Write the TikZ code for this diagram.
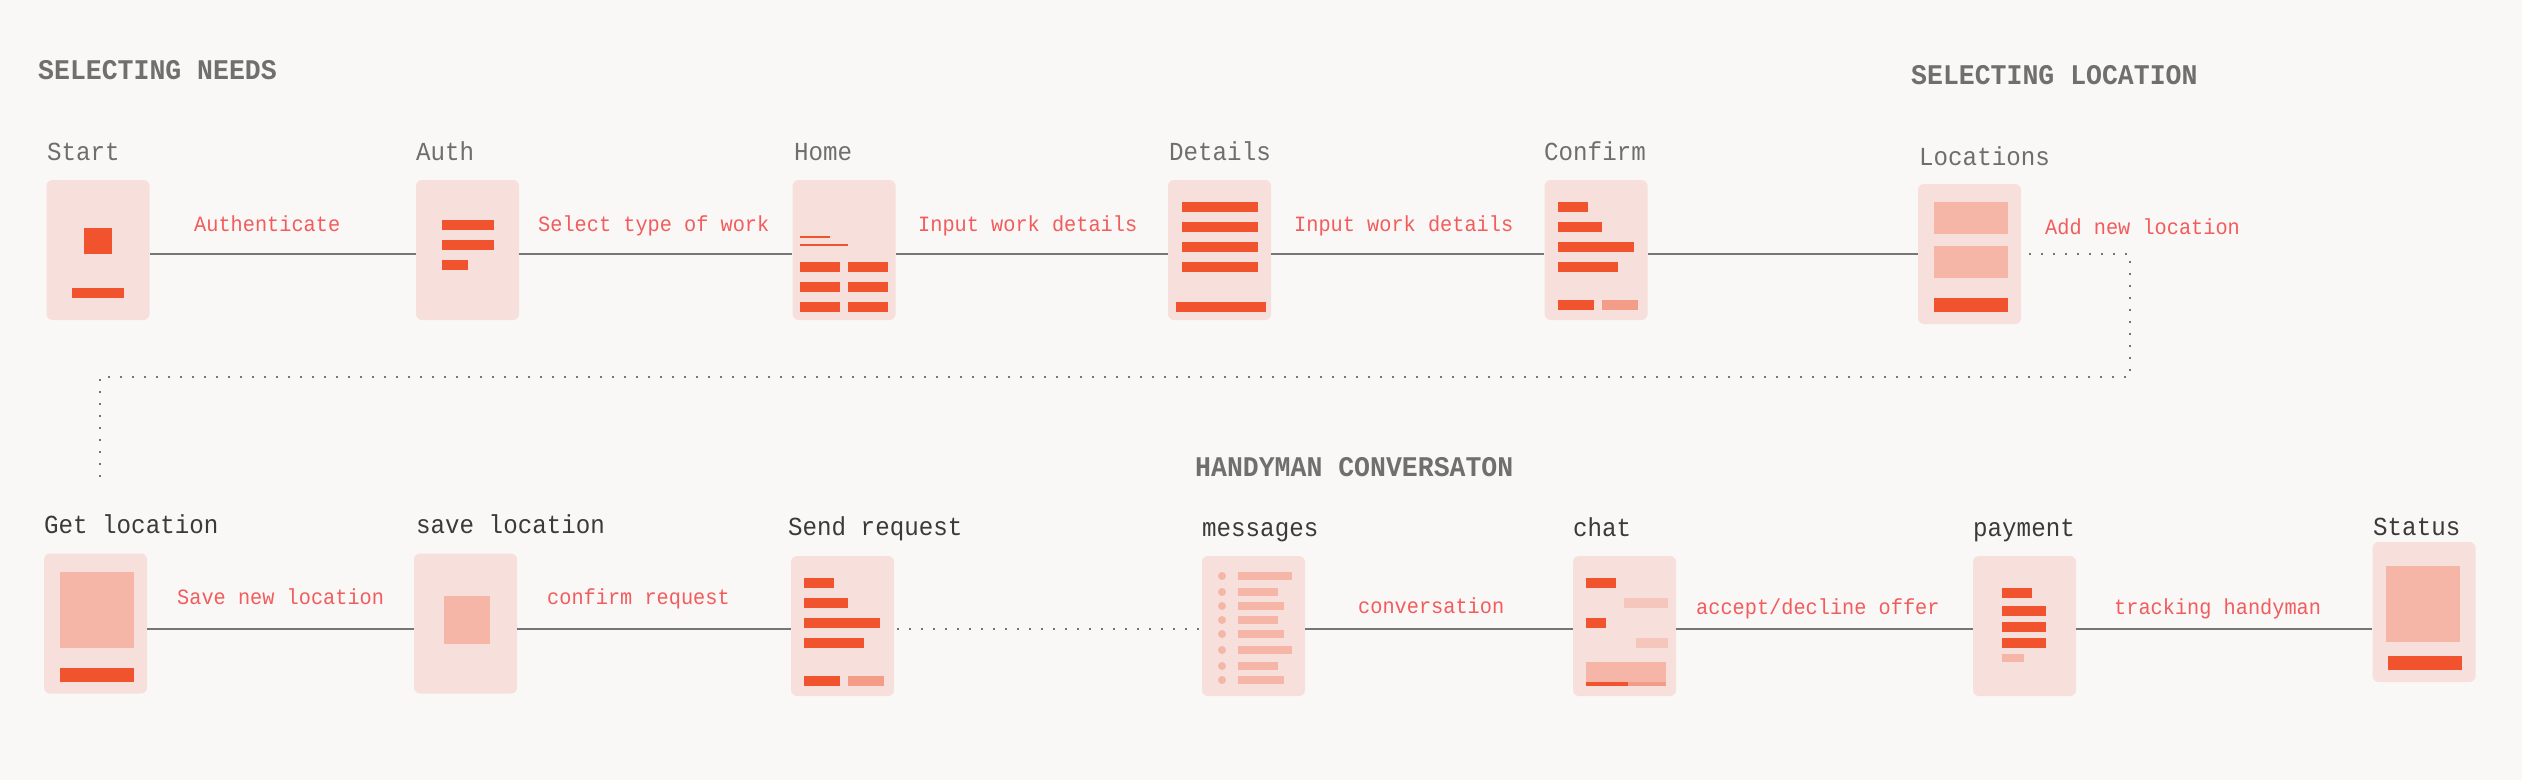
\documentclass[tikz,border=0pt]{standalone}
\usepackage{fontspec}
\newfontfamily\monofnt[FakeStretch=0.93]{Liberation Mono}
\definecolor{bg}{HTML}{F9F8F6}
\definecolor{boxfill}{HTML}{F7E0DC}
\definecolor{og}{HTML}{F2532F}
\definecolor{lt}{HTML}{F5B5A7}
\definecolor{med}{HTML}{F39C88}
\definecolor{pale}{HTML}{F5C6BB}
\definecolor{edgered}{HTML}{F25C5C}
\definecolor{titlegray}{HTML}{6F6F6F}
\definecolor{labelgray}{HTML}{6E6E6E}
\definecolor{labeldark}{HTML}{3A3A3A}
\definecolor{linegray}{HTML}{767676}
\begin{document}
\begin{tikzpicture}[x=1pt,y=-1pt,
  scr/.style={fill=boxfill, rounded corners=6pt, minimum width=103pt, minimum height=140pt, inner sep=0pt},
  ttl/.style={font=\monofnt\bfseries\fontsize{28.5}{32}\selectfont, text=titlegray, anchor=base west, inner sep=0pt},
  toplbl/.style={font=\monofnt\fontsize{26}{30}\selectfont, text=labelgray, anchor=base west, inner sep=0pt},
  botlbl/.style={font=\monofnt\fontsize{26}{30}\selectfont, text=labeldark, anchor=base west, inner sep=0pt},
  edgelbl/.style={font=\monofnt\fontsize{21.8}{25}\selectfont, text=edgered, anchor=base west, inner sep=0pt},
  conn/.style={draw=linegray, line width=2pt},
  dotln/.style={draw=linegray, line width=2pt, dash pattern=on 2pt off 10pt}]
\useasboundingbox (0,0) rectangle (2522,780);
\fill[bg] (0,0) rectangle (2522,780);

% titles
\node[ttl] (t1) at (38,79) {SELECTING NEEDS};
\node[ttl] (t2) at (1911,84) {SELECTING LOCATION};
\node[ttl] (t3) at (1195,476) {HANDYMAN CONVERSATON};

% screens
\node[scr] (start) at (98,250) {};
\node[scr] (auth) at (467.5,250) {};
\node[scr] (home) at (844,250) {};
\node[scr] (details) at (1219.5,250) {};
\node[scr] (confirm) at (1596,250) {};
\node[scr] (loc) at (1969.5,254) {};
\node[scr] (getloc) at (95.5,623.5) {};
\node[scr] (saveloc) at (465.5,623.5) {};
\node[scr] (sendreq) at (842.5,626) {};
\node[scr] (messages) at (1253.5,626) {};
\node[scr] (chat) at (1624.5,626) {};
\node[scr] (payment) at (2024.5,626) {};
\node[scr] (status) at (2424,612) {};

% screen labels
\node[toplbl] (lstart) at (47,160) {Start};
\node[toplbl] (lauth) at (416,160) {Auth};
\node[toplbl] (lhome) at (794,160) {Home};
\node[toplbl] (ldetails) at (1169,160) {Details};
\node[toplbl] (lconfirm) at (1544,160) {Confirm};
\node[toplbl] (lloc) at (1919,165) {Locations};
\node[botlbl] (lgetloc) at (44,533) {Get location};
\node[botlbl] (lsaveloc) at (416,533) {save location};
\node[botlbl] (lsendreq) at (788,535) {Send request};
\node[botlbl] (lmessages) at (1202,536) {messages};
\node[botlbl] (lchat) at (1573,536) {chat};
\node[botlbl] (lpayment) at (1973,536) {payment};
\node[botlbl] (lstatus) at (2373,535) {Status};

% inner: Start
\fill[og] (84,228) rectangle (112,254);
\fill[og] (72,288) rectangle (124,298);
% Auth
\fill[og] (442,220) rectangle (494,230);
\fill[og] (442,240) rectangle (494,250);
\fill[og] (442,260) rectangle (468,270);
% Home
\fill[og] (800,236) rectangle (830,238);
\fill[og] (800,244) rectangle (848,246);
\foreach \yy in {262,282,302}{
  \fill[og] (800,\yy) rectangle (840,\yy+10);
  \fill[og] (848,\yy) rectangle (888,\yy+10);
}
% Details
\foreach \yy in {202,222,242,262}{\fill[og] (1182,\yy) rectangle (1258,\yy+10);}
\fill[og] (1176,302) rectangle (1266,312);
% Confirm
\fill[og] (1558,202) rectangle (1588,212);
\fill[og] (1558,222) rectangle (1602,232);
\fill[og] (1558,242) rectangle (1634,252);
\fill[og] (1558,262) rectangle (1618,272);
\fill[og] (1558,300) rectangle (1594,310);
\fill[med] (1602,300) rectangle (1638,310);
% Locations
\fill[lt] (1934,202) rectangle (2008,234);
\fill[lt] (1934,246) rectangle (2008,278);
\fill[og] (1934,298) rectangle (2008,312);
% Get location
\fill[lt] (60,572) rectangle (134,648);
\fill[og] (60,668) rectangle (134,682);
% save location
\fill[lt] (444,596) rectangle (490,644);
% Send request
\fill[og] (804,578) rectangle (834,588);
\fill[og] (804,598) rectangle (848,608);
\fill[og] (804,618) rectangle (880,628);
\fill[og] (804,638) rectangle (864,648);
\fill[og] (804,676) rectangle (840,686);
\fill[med] (848,676) rectangle (884,686);
% messages
\foreach \yy/\xx in {576/1292,592/1278,606/1284,620/1278,634/1284,650/1292,666/1278,680/1284}{
  \fill[lt] (1222,\yy) circle[radius=4pt];
  \fill[lt] (1238,\yy-4) rectangle (\xx,\yy+4);
}
% chat
\fill[og] (1586,578) rectangle (1616,588);
\fill[pale] (1624,598) rectangle (1668,608);
\fill[og] (1586,618) rectangle (1606,628);
\fill[pale] (1636,638) rectangle (1668,648);
\fill[lt] (1586,662) rectangle (1666,682);
\fill[og] (1586,682) rectangle (1628,686);
\fill[med] (1628,682) rectangle (1666,686);
% payment
\fill[og] (2002,588) rectangle (2032,598);
\fill[og] (2002,606) rectangle (2046,616);
\fill[og] (2002,622) rectangle (2046,632);
\fill[og] (2002,638) rectangle (2046,648);
\fill[lt] (2002,654) rectangle (2024,662);
% Status
\fill[lt] (2386,566) rectangle (2460,642);
\fill[og] (2388,656) rectangle (2462,670);

% connectors
\coordinate (rowA) at (0,254);
\coordinate (rowB) at (0,629);
\draw[conn] (start.east |- rowA) -- (auth.west |- rowA);
\draw[conn] (auth.east |- rowA) -- (home.west |- rowA);
\draw[conn] (home.east |- rowA) -- (details.west |- rowA);
\draw[conn] (details.east |- rowA) -- (confirm.west |- rowA);
\draw[conn] (confirm.east |- rowA) -- (loc.west |- rowA);
\coordinate (turnA) at (2130,377);
\coordinate (turnB) at (100,377);
\coordinate (endB) at (100,483);
\draw[dotln] ([xshift=8pt]loc.east) -| (turnA) -- (turnB) -- (endB);
\draw[conn] (getloc.east |- rowB) -- (saveloc.west |- rowB);
\draw[conn] (saveloc.east |- rowB) -- (sendreq.west |- rowB);
\draw[dotln] ([xshift=3pt]sendreq.east |- rowB) -- (messages.west |- rowB);
\draw[conn] (messages.east |- rowB) -- (chat.west |- rowB);
\draw[conn] (chat.east |- rowB) -- (payment.west |- rowB);
\draw[conn] (payment.east |- rowB) -- (status.west |- rowB);

% connector labels
\node[edgelbl] (e1) at (194,231) {Authenticate};
\node[edgelbl] (e2) at (538,231) {Select type of work};
\node[edgelbl] (e3) at (918,231) {Input work details};
\node[edgelbl] (e4) at (1294,231) {Input work details};
\node[edgelbl] (e5) at (2045,234) {Add new location};
\node[edgelbl] (e6) at (177,604) {Save new location};
\node[edgelbl] (e7) at (547,604) {confirm request};
\node[edgelbl] (e8) at (1358,613) {conversation};
\node[edgelbl] (e9) at (1696,614) {accept/decline offer};
\node[edgelbl] (e10) at (2114,614) {tracking handyman};
\end{tikzpicture}
\end{document}
